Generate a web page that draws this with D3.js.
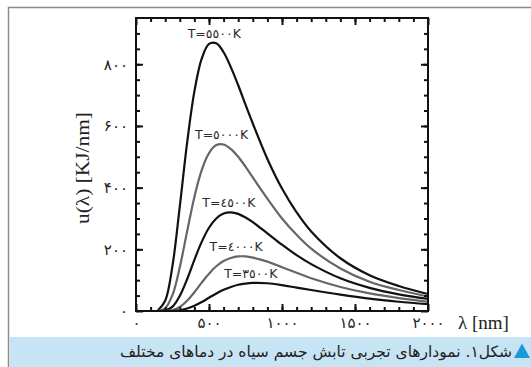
<!DOCTYPE html>
<html lang="fa">
<head>
<meta charset="UTF-8">
<script src="https://d3js.org/d3.v7.min.js"></script>
<title>Blackbody</title>
<style>
  body { margin: 0; background: #fff; }
  svg { display: block; }
</style>
</head>
<body>
<svg id="chart" width="531" height="367"></svg>
<script>
// wavelength samples (nm) and u(lambda)
const lambdaNm = [150, 200, 250, 300, 350, 400, 450, 500, 550, 600, 650, 700, 750, 800, 900, 1000, 1100, 1200, 1400, 1600, 1800, 2000];
const u5500 = [2, 33, 147, 339, 545, 712, 818, 866, 868, 839, 790, 732, 669, 608, 493, 397, 320, 258, 171, 116, 81, 55];
const u5000 = [0, 9, 52, 142, 258, 370, 457, 512, 538, 540, 525, 500, 468, 433, 364, 300, 247, 202, 138, 95, 68, 47];
const u4500 = [0, 2, 14, 49, 103, 166, 224, 270, 300, 316, 320, 315, 303, 288, 252, 215, 181, 152, 106, 75, 54, 39];
const u4000 = [0, 0, 3, 13, 33, 61, 92, 121, 145, 162, 172, 177, 177, 173, 160, 142, 124, 106, 78, 57, 42, 30];
const u3500 = [0, 0, 0, 2, 8, 17, 29, 43, 57, 69, 78, 85, 89, 91, 90, 84, 76, 68, 53, 40, 30, 22];

const seriesNames = ["T=٥٥٠٠K", "T=٥٠٠٠K", "T=٤٥٠٠K", "T=٤٠٠٠K", "T=٣٥٠٠K"];
const seriesValues = [u5500, u5000, u4500, u4000, u3500];
const seriesColors = ["#111", "#666", "#111", "#666", "#111"];

const xTicks = [0, 500, 1000, 1500, 2000];
const xTickLabels = ["۰", "۵۰۰", "۱۰۰۰", "۱۵۰۰", "۲۰۰۰"];
const yTicks = [0, 200, 400, 600, 800];
const yTickLabels = ["۰", "۲۰۰", "۴۰۰", "۶۰۰", "۸۰۰"];

const caption = "شکل۱. نمودارهای تجربی تابش جسم سیاه در دماهای مختلف";

const svg = d3.select("#chart");
const pLeft = 136, pRight = 428, pTop = 18, pBottom = 311;

const x = d3.scaleLinear().domain([0, 2000]).range([pLeft, pRight]);
const y = d3.scaleLinear().domain([0, 950]).range([pBottom, pTop]);

// outer box of the figure
svg.append("path")
    .attr("d", "M8.5,367 V7.5 H531")
    .attr("fill", "none")
    .attr("stroke", "#8c8c8c")
    .attr("stroke-width", 1.5);

// caption band
svg.append("rect")
    .attr("x", 9.5).attr("y", 337)
    .attr("width", 522).attr("height", 30)
    .attr("fill", "#c6e4f4");

svg.append("path")
    .attr("d", "M514,358 L522,343.5 L530,358 Z")
    .attr("fill", "#1b9ad7");

svg.append("text")
    .attr("x", 512).attr("y", 357)
    .attr("direction", "rtl")
    .attr("text-anchor", "start")
    .style("font-family", "'DejaVu Sans', sans-serif")
    .style("font-size", "15.5px")
    .attr("fill", "#222")
    .text(caption);

// curves
svg.append("clipPath").attr("id", "plot")
  .append("rect")
    .attr("x", pLeft).attr("y", pTop)
    .attr("width", pRight - pLeft).attr("height", pBottom - pTop);

const line = d3.line()
    .x((d, i) => x(lambdaNm[i]))
    .y(d => y(d))
    .curve(d3.curveCatmullRom.alpha(0.5));

seriesValues.forEach((vals, k) => {
    svg.append("path")
        .attr("clip-path", "url(#plot)")
        .attr("d", line(vals))
        .attr("fill", "none")
        .attr("stroke", seriesColors[k])
        .attr("stroke-width", 2.2);

    // label above the peak
    const iMax = d3.maxIndex(vals);
    svg.append("text")
        .attr("x", x(lambdaNm[iMax]) - 2)
        .attr("y", y(vals[iMax]) - 5)
        .attr("text-anchor", "middle")
        .style("font-family", "'DejaVu Sans', sans-serif")
        .style("font-size", "12.5px")
        .attr("fill", "#2a2a2a")
        .text(seriesNames[k]);
});

// axes: minor ticks, then major ticks with labels
const minorX = d3.range(100, 2000, 100);
const minorY = d3.range(50, 950, 50);

function styleAxis(g) {
    g.select(".domain").remove();
    g.selectAll("line").attr("stroke", "#111").attr("stroke-width", 2);
    g.selectAll("text")
        .style("font-family", "'DejaVu Sans', sans-serif")
        .style("font-size", "15px")
        .attr("fill", "#222");
}

svg.append("g").attr("transform", `translate(0,${pBottom})`)
    .call(d3.axisBottom(x).tickValues(minorX).tickSize(-4).tickFormat(""))
    .call(styleAxis);
svg.append("g").attr("transform", `translate(0,${pBottom})`)
    .call(d3.axisBottom(x).tickValues(xTicks).tickSize(-7).tickPadding(6)
        .tickFormat((d, i) => xTickLabels[i]))
    .call(styleAxis);

svg.append("g").attr("transform", `translate(0,${pTop})`)
    .call(d3.axisTop(x).tickValues(minorX).tickSize(-4).tickFormat(""))
    .call(styleAxis);
svg.append("g").attr("transform", `translate(0,${pTop})`)
    .call(d3.axisTop(x).tickValues(xTicks).tickSize(-7).tickFormat(""))
    .call(styleAxis);

svg.append("g").attr("transform", `translate(${pLeft},0)`)
    .call(d3.axisLeft(y).tickValues(minorY).tickSize(-4).tickFormat(""))
    .call(styleAxis);
svg.append("g").attr("transform", `translate(${pLeft},0)`)
    .call(d3.axisLeft(y).tickValues(yTicks).tickSize(-7).tickPadding(8)
        .tickFormat((d, i) => yTickLabels[i]))
    .call(styleAxis);

svg.append("g").attr("transform", `translate(${pRight},0)`)
    .call(d3.axisRight(y).tickValues(minorY).tickSize(-4).tickFormat(""))
    .call(styleAxis);
svg.append("g").attr("transform", `translate(${pRight},0)`)
    .call(d3.axisRight(y).tickValues(yTicks).tickSize(-7).tickFormat(""))
    .call(styleAxis);

// frame
svg.append("rect")
    .attr("x", pLeft).attr("y", pTop)
    .attr("width", pRight - pLeft).attr("height", pBottom - pTop)
    .attr("fill", "none")
    .attr("stroke", "#111")
    .attr("stroke-width", 2);

// axis titles
svg.append("text")
    .attr("x", 458).attr("y", 329)
    .style("font-family", "'Liberation Serif', serif")
    .style("font-size", "19px")
    .attr("fill", "#222")
    .text("λ [nm]");

svg.append("text")
    .attr("transform", "translate(89,168) rotate(-90)")
    .attr("text-anchor", "middle")
    .attr("textLength", 112)
    .attr("lengthAdjust", "spacingAndGlyphs")
    .style("font-family", "'Liberation Serif', serif")
    .style("font-size", "19px")
    .attr("fill", "#222")
    .text("u(λ) [KJ/nm]");
</script>
</body>
</html>
